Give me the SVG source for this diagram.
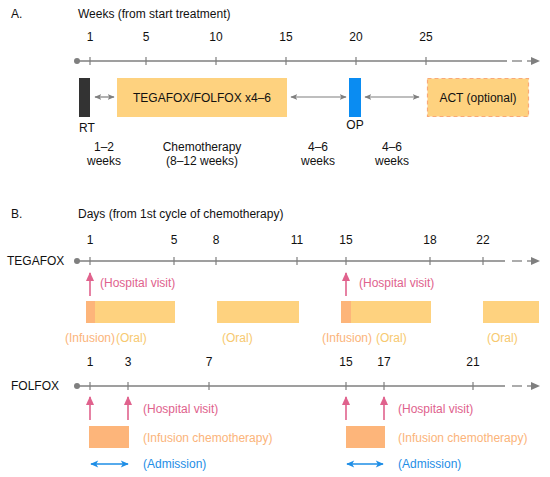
<svg xmlns="http://www.w3.org/2000/svg" width="550" height="477" viewBox="0 0 550 477">
<defs>
<style>
text{font-family:"Liberation Sans",Arial,Helvetica,sans-serif;font-size:12px;fill:#111}
.c{text-anchor:middle}
.pink{fill:#E0628D}
.inf{fill:#FBB47A}
.oral{fill:#F7C96F}
.blue{fill:#1E8EE6}
.axis{stroke:#7f7f7f;stroke-width:1.3;fill:none}
.tick{stroke:#7f7f7f;stroke-width:1.2}
.ga{stroke:#7f7f7f;stroke-width:1.2;fill:none;marker-start:url(#ga);marker-end:url(#ga)}
.pa{stroke:#E0628D;stroke-width:1.6;fill:none;marker-end:url(#pa)}
.ba{stroke:#1E8EE6;stroke-width:1.6;fill:none;marker-start:url(#ba);marker-end:url(#ba)}
.yb{fill:#FED27F}
.ob{fill:#FDB57A}
</style>
<marker id="ga" viewBox="0 0 10 10" refX="9" refY="5" markerWidth="7" markerHeight="7" markerUnits="userSpaceOnUse" orient="auto-start-reverse"><path d="M0,1 L10,5 L0,9 L2.5,5 z" fill="#7f7f7f"/></marker>
<marker id="pa" viewBox="0 0 10 10" refX="9" refY="5" markerWidth="9" markerHeight="9" markerUnits="userSpaceOnUse" orient="auto"><path d="M0,0.5 L10,5 L0,9.5 z" fill="#E0628D"/></marker>
<marker id="ba" viewBox="0 0 10 10" refX="9" refY="5" markerWidth="9" markerHeight="8" markerUnits="userSpaceOnUse" orient="auto-start-reverse"><path d="M0,0.5 L10,5 L0,9.5 L2.5,5 z" fill="#1E8EE6"/></marker>
</defs>

<!-- Section A -->
<g id="sectionA-titles">
<text x="11" y="18">A.</text>
<text x="78" y="18">Weeks (from start treatment)</text>
</g>
<g id="axisA">
<circle cx="77" cy="61" r="3" fill="#7f7f7f"/>
<line class="axis" x1="77" y1="61" x2="507" y2="61"/>
<line class="axis" x1="512" y1="61" x2="522" y2="61"/>
<line class="axis" x1="527" y1="61" x2="533" y2="61"/>
<polygon points="531,57 540,61 531,65" fill="#7f7f7f"/>
<g class="tick">
<line x1="90" y1="57" x2="90" y2="65"/>
<line x1="146" y1="57" x2="146" y2="65"/>
<line x1="216" y1="57" x2="216" y2="65"/>
<line x1="286" y1="57" x2="286" y2="65"/>
<line x1="356" y1="57" x2="356" y2="65"/>
<line x1="426" y1="57" x2="426" y2="65"/>
</g>
<text class="c" x="90" y="41">1</text>
<text class="c" x="146" y="41">5</text>
<text class="c" x="216" y="41">10</text>
<text class="c" x="286" y="41">15</text>
<text class="c" x="356" y="41">20</text>
<text class="c" x="426" y="41">25</text>
</g>
<g id="RT">
<rect x="79" y="78" width="11" height="39" fill="#333333"/>
<text x="79" y="132">RT</text>
</g>
<g id="chemo">
<rect x="117" y="78" width="170" height="39" class="yb"/>
<text class="c" x="202" y="102">TEGAFOX/FOLFOX x4–6</text>
</g>
<g id="OP">
<rect x="349" y="78" width="12" height="39" fill="#0A8CF2"/>
<text class="c" x="355" y="129">OP</text>
</g>
<g id="ACT">
<rect x="427.5" y="78.5" width="101" height="38" class="yb" stroke="#F9A977" stroke-width="1.2" stroke-dasharray="4,3"/>
<text class="c" x="478" y="102">ACT (optional)</text>
</g>
<g id="connectorsA">
<line class="ga" x1="95" y1="97" x2="114" y2="97"/>
<line class="ga" x1="291" y1="97" x2="346" y2="97"/>
<line class="ga" x1="365" y1="97" x2="419" y2="97"/>
</g>
<g id="durationsA">
<text class="c" x="104" y="151">1–2</text>
<text class="c" x="104" y="165">weeks</text>
<text class="c" x="202" y="151">Chemotherapy</text>
<text class="c" x="202" y="165">(8–12 weeks)</text>
<text class="c" x="318" y="151">4–6</text>
<text class="c" x="318" y="165">weeks</text>
<text class="c" x="392" y="151">4–6</text>
<text class="c" x="392" y="165">weeks</text>
</g>

<!-- Section B -->
<g id="sectionB-titles">
<text x="11" y="218">B.</text>
<text x="78" y="218">Days (from 1st cycle of chemotherapy)</text>
</g>
<g id="axisTEGAFOX">
<text x="7" y="265">TEGAFOX</text>
<circle cx="77" cy="261" r="3" fill="#7f7f7f"/>
<line class="axis" x1="77" y1="261" x2="505" y2="261"/>
<line class="axis" x1="512" y1="261" x2="522" y2="261"/>
<line class="axis" x1="527" y1="261" x2="533" y2="261"/>
<polygon points="531,257 540,261 531,265" fill="#7f7f7f"/>
<g class="tick">
<line x1="90" y1="257" x2="90" y2="265"/>
<line x1="174" y1="257" x2="174" y2="265"/>
<line x1="216" y1="257" x2="216" y2="265"/>
<line x1="297" y1="257" x2="297" y2="265"/>
<line x1="346" y1="257" x2="346" y2="265"/>
<line x1="430" y1="257" x2="430" y2="265"/>
<line x1="483" y1="257" x2="483" y2="265"/>
</g>
<text class="c" x="90" y="244">1</text>
<text class="c" x="174" y="244">5</text>
<text class="c" x="216" y="244">8</text>
<text class="c" x="297" y="244">11</text>
<text class="c" x="346" y="244">15</text>
<text class="c" x="430" y="244">18</text>
<text class="c" x="483" y="244">22</text>
</g>
<g id="tegafox-bars">
<rect x="86" y="301" width="89" height="22" class="yb"/>
<rect x="86" y="301" width="9" height="22" class="ob"/>
<rect x="217" y="301" width="82" height="22" class="yb"/>
<rect x="341" y="301" width="90" height="22" class="yb"/>
<rect x="341" y="301" width="10" height="22" class="ob"/>
<rect x="483" y="301" width="56" height="22" class="yb"/>
<text class="inf" x="65" y="342">(Infusion)</text>
<text class="oral" x="116" y="342">(Oral)</text>
<text class="oral" x="222" y="342">(Oral)</text>
<text class="inf" x="322" y="342">(Infusion)</text>
<text class="oral" x="376" y="342">(Oral)</text>
<text class="oral" x="487" y="342">(Oral)</text>
</g>
<g id="tegafox-visits">
<text class="pink" x="100" y="287">(Hospital visit)</text>
<text class="pink" x="359" y="287">(Hospital visit)</text>
</g>

<g id="axisFOLFOX">
<text x="11" y="390">FOLFOX</text>
<circle cx="77" cy="386" r="3" fill="#7f7f7f"/>
<line class="axis" x1="77" y1="386" x2="505" y2="386"/>
<line class="axis" x1="512" y1="386" x2="522" y2="386"/>
<line class="axis" x1="527" y1="386" x2="533" y2="386"/>
<polygon points="531,382 540,386 531,390" fill="#7f7f7f"/>
<g class="tick">
<line x1="90" y1="382" x2="90" y2="390"/>
<line x1="128" y1="382" x2="128" y2="390"/>
<line x1="209" y1="382" x2="209" y2="390"/>
<line x1="346" y1="382" x2="346" y2="390"/>
<line x1="384" y1="382" x2="384" y2="390"/>
<line x1="473" y1="382" x2="473" y2="390"/>
</g>
<text class="c" x="90" y="366">1</text>
<text class="c" x="128" y="366">3</text>
<text class="c" x="209" y="366">7</text>
<text class="c" x="346" y="366">15</text>
<text class="c" x="384" y="366">17</text>
<text class="c" x="473" y="366">21</text>
</g>
<g id="folfox-infusion">
<rect x="89" y="426" width="40" height="22" class="ob"/>
<rect x="346" y="426" width="39" height="22" class="ob"/>
<text class="inf" x="143" y="442">(Infusion chemotherapy)</text>
<text class="inf" x="398" y="442">(Infusion chemotherapy)</text>
</g>
<g id="folfox-labels">
<text class="pink" x="143" y="413">(Hospital visit)</text>
<text class="pink" x="398" y="413">(Hospital visit)</text>
<text class="blue" x="143" y="468">(Admission)</text>
<text class="blue" x="398" y="468">(Admission)</text>
</g>

<g id="connectors">
<line class="pa" x1="90" y1="296" x2="90" y2="273"/>
<line class="pa" x1="346" y1="296" x2="346" y2="273"/>
<line class="pa" x1="90" y1="420" x2="90" y2="397"/>
<line class="pa" x1="128" y1="420" x2="128" y2="397"/>
<line class="pa" x1="346" y1="420" x2="346" y2="397"/>
<line class="pa" x1="384" y1="420" x2="384" y2="397"/>
<line class="ba" x1="91" y1="464" x2="128" y2="464"/>
<line class="ba" x1="347" y1="464" x2="383" y2="464"/>
</g>
</svg>
